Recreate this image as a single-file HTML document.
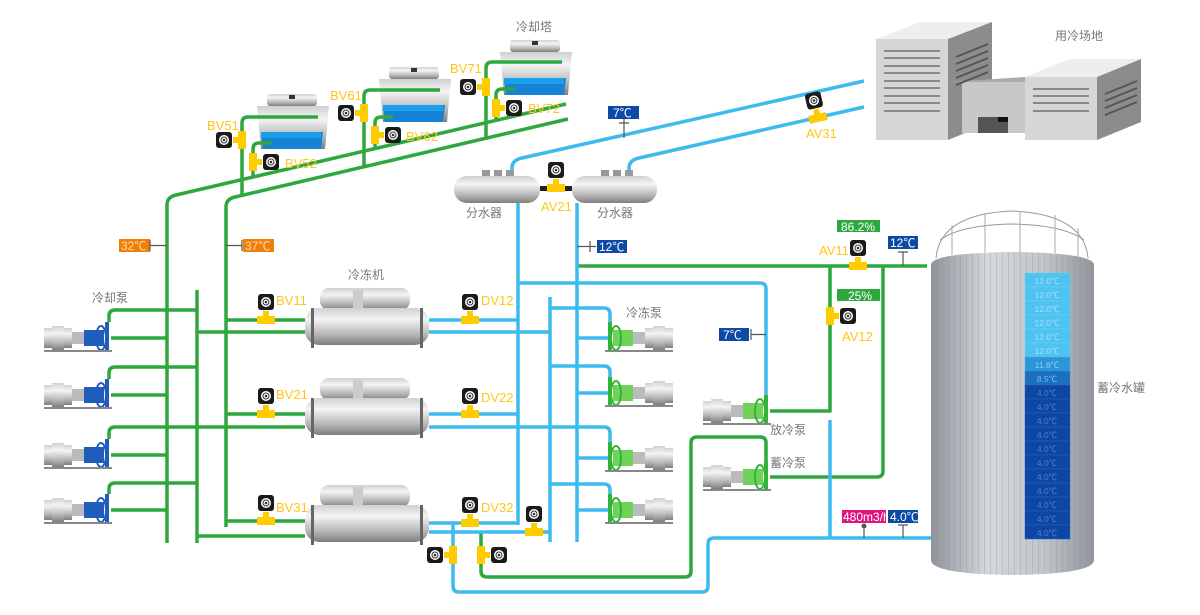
<!DOCTYPE html>
<html><head><meta charset="utf-8"><style>
html,body{margin:0;padding:0;background:#fff}
svg{display:block}
text{font-family:"Liberation Sans","Noto Sans CJK SC",sans-serif}
.lb{fill:#777;font-size:12px}
.vl{fill:#ffc61a;font-size:13px}
.g{fill:none;stroke:#2ea83e;stroke-width:3.5;stroke-linejoin:round}
.b{fill:none;stroke:#3dbbee;stroke-width:3.5;stroke-linejoin:round}
.tk{stroke:#555;stroke-width:1.2;fill:none}
</style></head><body>
<svg width="1200" height="615" viewBox="0 0 1200 615" xmlns="http://www.w3.org/2000/svg">
<defs>
<linearGradient id="gv" x1="0" y1="0" x2="0" y2="1">
<stop offset="0" stop-color="#d0d0d0"/><stop offset="0.3" stop-color="#f4f4f4"/><stop offset="0.7" stop-color="#b8b8b8"/><stop offset="1" stop-color="#7e7e7e"/></linearGradient>
<linearGradient id="gt" x1="0" y1="0" x2="1" y2="0">
<stop offset="0" stop-color="#8e949a"/><stop offset="0.35" stop-color="#d5d9dd"/><stop offset="0.7" stop-color="#c0c5ca"/><stop offset="1" stop-color="#8f959b"/></linearGradient>
<pattern id="st" width="6" height="10" patternUnits="userSpaceOnUse"><rect width="6" height="10" fill="none"/><line x1="0.5" y1="0" x2="0.5" y2="10" stroke="#8a9096" stroke-width="0.6" opacity="0.5"/></pattern>
<g id="act"><rect x="-8" y="-8" width="16" height="16" rx="3" fill="#1a1a1a"/><circle r="5" fill="#fff"/><circle r="3" fill="none" stroke="#333" stroke-width="1"/><circle r="1.3" fill="#333"/></g>
<g id="vh"><rect x="-9" y="-4" width="18" height="8" fill="#ffcc00"/><rect x="-3" y="-9" width="6" height="6" fill="#ffcc00"/><use href="#act" y="-18"/></g>
<g id="vvl"><rect x="-4" y="-9" width="8" height="18" fill="#ffcc00"/><rect x="-9" y="-3" width="6" height="6" fill="#ffcc00"/><use href="#act" x="-18"/></g>
<g id="vvr"><rect x="-4" y="-9" width="8" height="18" fill="#ffcc00"/><rect x="3" y="-3" width="6" height="6" fill="#ffcc00"/><use href="#act" x="18"/></g>
<g id="tower"><rect x="10" y="0" width="50" height="12" rx="3" fill="url(#gv)"/><rect x="32" y="1" width="6" height="4" fill="#333"/><path d="M0,12 H72 L68,55 H4 Z" fill="url(#gv)"/><path d="M4,38 H66 L64,55 H6 Z" fill="#1582d6"/><rect x="4" y="38" width="60" height="6" fill="#1aa0ea"/></g>
<g id="chiller"><rect x="15" y="0" width="90" height="22" rx="9" fill="url(#gv)"/><rect x="48" y="2" width="10" height="26" fill="#ccc"/><rect x="0" y="20" width="124" height="37" rx="14" fill="url(#gv)"/><rect x="6" y="20" width="3" height="40" fill="#666"/><rect x="115" y="20" width="3" height="40" fill="#666"/></g>
<g id="pb"><rect x="44" y="-10" width="28" height="20" fill="url(#gv)"/><rect x="52" y="-12" width="12" height="24" fill="url(#gv)"/><rect x="72" y="-6" width="12" height="12" fill="#bbb"/><rect x="84" y="-8" width="20" height="16" fill="#1f5cbc"/><ellipse cx="101" cy="0" rx="5" ry="12" fill="none" stroke="#1f5cbc" stroke-width="2"/><rect x="105" y="-16" width="4" height="30" fill="#1f5cbc"/><rect x="44" y="12" width="68" height="2" fill="#888"/></g>
<g id="pg"><rect x="44" y="-10" width="28" height="20" fill="url(#gv)"/><rect x="52" y="-12" width="12" height="24" fill="url(#gv)"/><rect x="72" y="-6" width="12" height="12" fill="#bbb"/><rect x="84" y="-8" width="20" height="16" fill="#6fd35a"/><ellipse cx="101" cy="0" rx="5" ry="12" fill="none" stroke="#34b339" stroke-width="2"/><rect x="105" y="-16" width="4" height="30" fill="#34b339"/><rect x="44" y="12" width="68" height="2" fill="#888"/></g>
</defs>

<!-- buildings -->
<polygon points="876,39 948,39 992,22 920,22" fill="#eee"/>
<rect x="876" y="39" width="72" height="101" fill="#d6d6d6"/>
<polygon points="948,39 992,22 992,122 948,140" fill="#8c8c8c"/>
<rect x="962" y="82" width="63" height="51" fill="#c8c8c8"/>
<polygon points="948,82 1025,82 1025,77" fill="#aaa"/>
<rect x="978" y="117" width="30" height="16" fill="#555"/><rect x="998" y="117" width="10" height="5" fill="#111"/>
<polygon points="1025,77 1097,77 1141,59 1069,59" fill="#eee"/>
<rect x="1025" y="77" width="72" height="63" fill="#d6d6d6"/>
<polygon points="1097,77 1141,59 1141,122 1097,140" fill="#8c8c8c"/>
<g stroke="#888" stroke-width="2">
<line x1="884" y1="51" x2="940" y2="51"/><line x1="884" y1="58" x2="940" y2="58"/><line x1="884" y1="66" x2="940" y2="66"/><line x1="884" y1="73" x2="940" y2="73"/><line x1="884" y1="81" x2="940" y2="81"/><line x1="884" y1="88" x2="940" y2="88"/><line x1="884" y1="96" x2="940" y2="96"/><line x1="884" y1="103" x2="940" y2="103"/><line x1="884" y1="111" x2="940" y2="111"/>
<line x1="1033" y1="89" x2="1089" y2="89"/><line x1="1033" y1="96" x2="1089" y2="96"/><line x1="1033" y1="103" x2="1089" y2="103"/><line x1="1033" y1="111" x2="1089" y2="111"/></g>
<g stroke="#555" stroke-width="2"><line x1="956" y1="57" x2="988" y2="44"/><line x1="956" y1="64" x2="988" y2="51"/><line x1="956" y1="71" x2="988" y2="58"/><line x1="956" y1="78" x2="988" y2="65"/><line x1="956" y1="85" x2="988" y2="72"/>
<line x1="1105" y1="94" x2="1137" y2="81"/><line x1="1105" y1="101" x2="1137" y2="88"/><line x1="1105" y1="108" x2="1137" y2="95"/><line x1="1105" y1="115" x2="1137" y2="102"/></g>
<text class="lb" x="1055" y="40">用冷场地</text>

<!-- towers -->
<use href="#tower" x="257" y="94"/>
<use href="#tower" x="379" y="67"/>
<use href="#tower" x="500" y="40"/>
<text class="lb" x="516" y="31">冷却塔</text>

<!-- green pipes -->
<path class="g" d="M167,543 V205 Q167,197 176,195 L566,104"/>
<path class="g" d="M226,527 V207 Q226,199 235,197 L568,119"/>
<path class="g" d="M197,290 V543"/>
<path class="g" d="M242,195 V123 Q242,117 248,117 H318"/>
<path class="g" d="M253,176 V149 Q253,143 259,143 H272"/>
<path class="g" d="M364,167 V96 Q364,90 370,90 H440"/>
<path class="g" d="M375,148 V123 Q375,117 381,117 H393"/>
<path class="g" d="M486,139 V68 Q486,62 492,62 H562"/>
<path class="g" d="M496,121 V95 Q496,89 502,89 H515"/>
<path class="g" d="M109,322 V316 Q109,310 115,310 H197 M111,338 H167"/>
<path class="g" d="M109,379 V373 Q109,367 115,367 H197 M111,395 H167"/>
<path class="g" d="M109,439 V433 Q109,427 115,427 H305 M111,455 H167"/>
<path class="g" d="M109,494 V489 Q109,483 115,483 H197 M111,510 H167"/>
<path class="g" d="M226,320 H305 M197,332 H305 M226,414 H305 M226,521 H305 M197,536 H305"/>
<path class="g" d="M577,266 H927 M830,266 V411 H770 M883,266 V471 Q883,477 877,477 H770"/>
<path class="g" d="M481,532 V571 Q481,577 487,577 H685 Q691,577 691,571 V443 Q691,437 697,437 H760 Q766,437 766,443 V462"/>

<!-- blue pipes -->
<path class="b" d="M512,176 V168 Q512,160 522,158 L864,81"/>
<path class="b" d="M629,176 V168 Q629,160 639,158 L864,107"/>
<path class="b" d="M518,203 V525 M550,297 V542 M577,203 V542"/>
<path class="b" d="M518,283 H760 Q766,283 766,289 V397"/>
<path class="b" d="M429,320 H518 M429,332 H550 M429,414 H518 M429,427 H604 Q610,427 610,433 V442 M429,523 H518 M429,532 H550"/>
<path class="b" d="M550,308 H604 Q610,308 610,314 V322 M608,338 H577"/>
<path class="b" d="M550,366 H604 Q610,366 610,372 V377 M608,393 H577"/>
<path class="b" d="M608,458 H577"/>
<path class="b" d="M550,484 H604 Q610,484 610,490 V494 M608,510 H577"/>
<path class="b" d="M453,523 V586 Q453,592 459,592 H702 Q708,592 708,586 V544 Q708,538 714,538 H931"/>
<path class="b" d="M830,420 V538"/>

<!-- splitter tanks -->
<rect x="506" y="170" width="8" height="8" fill="#999"/><rect x="494" y="170" width="8" height="8" fill="#999"/><rect x="482" y="170" width="8" height="8" fill="#999"/>
<rect x="625" y="170" width="8" height="8" fill="#999"/><rect x="613" y="170" width="8" height="8" fill="#999"/><rect x="601" y="170" width="8" height="8" fill="#999"/>
<rect x="454" y="176" width="86" height="27" rx="13" fill="url(#gv)"/>
<rect x="572" y="176" width="85" height="27" rx="13" fill="url(#gv)"/>
<rect x="540" y="186" width="32" height="5" fill="#222"/>
<use href="#vh" x="556" y="188"/>
<text class="lb" x="466" y="217">分水器</text>
<text class="lb" x="597" y="217">分水器</text>
<text class="vl" x="541" y="211">AV21</text>

<!-- chillers -->
<use href="#chiller" x="305" y="288"/>
<use href="#chiller" x="305" y="378"/>
<use href="#chiller" x="305" y="485"/>
<text class="lb" x="348" y="279">冷冻机</text>

<!-- pumps -->
<use href="#pb" y="338"/><use href="#pb" y="395"/><use href="#pb" y="455"/><use href="#pb" y="510"/>
<text class="lb" x="92" y="302">冷却泵</text>
<use href="#pg" transform="translate(717,338) scale(-1,1)"/>
<use href="#pg" transform="translate(717,393) scale(-1,1)"/>
<use href="#pg" transform="translate(717,458) scale(-1,1)"/>
<use href="#pg" transform="translate(717,510) scale(-1,1)"/>
<text class="lb" x="626" y="317">冷冻泵</text>
<use href="#pg" x="659" y="411"/>
<use href="#pg" x="659" y="477"/>
<text class="lb" x="770" y="434">放冷泵</text>
<text class="lb" x="770" y="467">蓄冷泵</text>

<!-- valves -->
<use href="#vvl" x="242" y="140"/><text class="vl" x="207" y="130">BV51</text>
<use href="#vvr" x="253" y="162"/><text class="vl" x="285" y="168">BV52</text>
<use href="#vvl" x="364" y="113"/><text class="vl" x="330" y="100">BV61</text>
<use href="#vvr" x="375" y="135"/><text class="vl" x="406" y="141">BV62</text>
<use href="#vvl" x="486" y="87"/><text class="vl" x="450" y="73">BV71</text>
<use href="#vvr" x="496" y="108"/><text class="vl" x="528" y="113">BV72</text>
<use href="#vh" x="266" y="320"/><text class="vl" x="276" y="305">BV11</text>
<use href="#vh" x="266" y="414"/><text class="vl" x="276" y="399">BV21</text>
<use href="#vh" x="266" y="521"/><text class="vl" x="276" y="512">BV31</text>
<use href="#vh" x="470" y="320"/><text class="vl" x="481" y="305">DV12</text>
<use href="#vh" x="470" y="414"/><text class="vl" x="481" y="402">DV22</text>
<use href="#vh" x="470" y="523"/><text class="vl" x="481" y="512">DV32</text>
<use href="#vh" x="534" y="532"/>
<use href="#vvl" x="453" y="555"/>
<use href="#vvr" x="481" y="555"/>
<use href="#vh" x="858" y="266"/><text class="vl" x="819" y="255">AV11</text>
<use href="#vvr" x="830" y="316"/><text class="vl" x="842" y="341">AV12</text>
<use href="#vh" transform="translate(818,118) rotate(-13)"/><text class="vl" x="806" y="138">AV31</text>

<!-- labels -->
<rect x="119" y="239" width="31" height="13" fill="#f07f0a"/><text x="121" y="250" fill="#ffd9a8" font-size="12">32℃</text>
<path class="tk" d="M150,245.5 H167 M150,240 V251"/>
<rect x="243" y="239" width="31" height="13" fill="#f07f0a"/><text x="245" y="250" fill="#ffd9a8" font-size="12">37℃</text>
<path class="tk" d="M226,245.5 H242 M242,240 V251"/>
<rect x="608" y="106" width="31" height="13" fill="#0d4aa5"/><text x="613" y="117" fill="#fff" font-size="12">7℃</text>
<path class="tk" d="M624,119 V138 M619,123 H629"/>
<rect x="597" y="240" width="30" height="13" fill="#0d4aa5"/><text x="599" y="251" fill="#fff" font-size="12">12℃</text>
<path class="tk" d="M577,246.5 H596 M590,241 V252"/>
<rect x="719" y="328" width="30" height="13" fill="#0d4aa5"/><text x="723" y="339" fill="#fff" font-size="12">7℃</text>
<path class="tk" d="M751,334.5 H766 M751,329 V340"/>
<rect x="837" y="220" width="43" height="12" fill="#2ea83e"/><text x="841" y="231" fill="#fff" font-size="12">86.2%</text>
<rect x="837" y="289" width="43" height="12" fill="#2ea83e"/><text x="848" y="300" fill="#fff" font-size="12">25%</text>
<rect x="888" y="236" width="30" height="13" fill="#0d4aa5"/><text x="890" y="247" fill="#fff" font-size="12">12℃</text>
<path class="tk" d="M903,252 V266 M898,252 H908"/>
<rect x="842" y="510" width="44" height="13" fill="#e0157f"/><text x="843" y="521" fill="#fff" font-size="12">480m3/h</text>
<circle cx="864" cy="526" r="2.5" fill="#555"/><path class="tk" d="M864,526 V538"/>
<rect x="888" y="510" width="30" height="13" fill="#0d4aa5"/><text x="890" y="521" fill="#fff" font-size="12">4.0℃</text>
<path class="tk" d="M903,525 V538 M898,525 H908"/>

<!-- storage tank -->
<path d="M936,258 Q940,214 1012,211 Q1084,214 1088,258" fill="none" stroke="#999" stroke-width="1"/>
<path d="M940,240 Q960,225 1012,224 Q1064,225 1084,240" fill="none" stroke="#999" stroke-width="1"/>
<g stroke="#aaa" stroke-width="1"><line x1="952" y1="225" x2="952" y2="255"/><line x1="985" y1="213" x2="985" y2="252"/><line x1="1020" y1="211" x2="1020" y2="252"/><line x1="1055" y1="215" x2="1055" y2="253"/><line x1="1078" y1="228" x2="1078" y2="258"/></g>
<path d="M931,265 Q931,253 1012,252 Q1094,253 1094,265 V560 Q1094,574 1012,575 Q931,574 931,560 Z" fill="url(#gt)"/>
<path d="M931,265 Q931,253 1012,252 Q1094,253 1094,265 V560 Q1094,574 1012,575 Q931,574 931,560 Z" fill="url(#st)"/>
<text class="lb" x="1097" y="392">蓄冷水罐</text>
<g font-size="8.5" text-anchor="middle">
<rect x="1025" y="273" width="45" height="14" fill="#4fc3ef" stroke="#6fd0f5" stroke-width="0.5"/><text x="1047" y="284" fill="#9fe0fa">12.0℃</text>
<rect x="1025" y="287" width="45" height="14" fill="#4fc3ef" stroke="#6fd0f5" stroke-width="0.5"/><text x="1047" y="298" fill="#9fe0fa">12.0℃</text>
<rect x="1025" y="301" width="45" height="14" fill="#4fc3ef" stroke="#6fd0f5" stroke-width="0.5"/><text x="1047" y="312" fill="#9fe0fa">12.0℃</text>
<rect x="1025" y="315" width="45" height="14" fill="#4fc3ef" stroke="#6fd0f5" stroke-width="0.5"/><text x="1047" y="326" fill="#9fe0fa">12.0℃</text>
<rect x="1025" y="329" width="45" height="14" fill="#4fc3ef" stroke="#6fd0f5" stroke-width="0.5"/><text x="1047" y="340" fill="#9fe0fa">12.0℃</text>
<rect x="1025" y="343" width="45" height="14" fill="#4fc3ef" stroke="#6fd0f5" stroke-width="0.5"/><text x="1047" y="354" fill="#9fe0fa">12.0℃</text>
<rect x="1025" y="357" width="45" height="14" fill="#2a96d6" stroke="#50b0e8" stroke-width="0.5"/><text x="1047" y="368" fill="#8fd0f5">11.8℃</text>
<rect x="1025" y="371" width="45" height="14" fill="#1b6fc0" stroke="#3a88d0" stroke-width="0.5"/><text x="1047" y="382" fill="#7fb8ea">8.5℃</text>
<g fill="#0d47a6" stroke="#2a62b8" stroke-width="0.5">
<rect x="1025" y="385" width="45" height="14"/><rect x="1025" y="399" width="45" height="14"/><rect x="1025" y="413" width="45" height="14"/><rect x="1025" y="427" width="45" height="14"/><rect x="1025" y="441" width="45" height="14"/><rect x="1025" y="455" width="45" height="14"/><rect x="1025" y="469" width="45" height="14"/><rect x="1025" y="483" width="45" height="14"/><rect x="1025" y="497" width="45" height="14"/><rect x="1025" y="511" width="45" height="14"/><rect x="1025" y="525" width="45" height="14"/></g>
<g fill="#4f7fc8">
<text x="1047" y="396">4.0℃</text><text x="1047" y="410">4.0℃</text><text x="1047" y="424">4.0℃</text><text x="1047" y="438">4.0℃</text><text x="1047" y="452">4.0℃</text><text x="1047" y="466">4.0℃</text><text x="1047" y="480">4.0℃</text><text x="1047" y="494">4.0℃</text><text x="1047" y="508">4.0℃</text><text x="1047" y="522">4.0℃</text><text x="1047" y="536">4.0℃</text></g>
</g>
</svg>
</body></html>
